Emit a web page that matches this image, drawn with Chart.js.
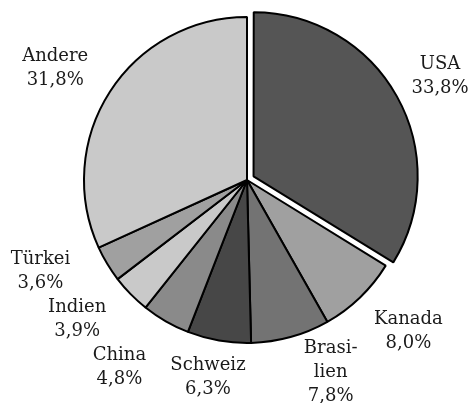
<!DOCTYPE html>
<html>
<head>
<meta charset="utf-8">
<script src="https://cdn.jsdelivr.net/npm/chart.js@4/dist/chart.umd.min.js"></script>
<style>
  html, body { margin: 0; padding: 0; background: #fff; }
  #wrap { width: 470px; height: 403px; }
</style>
</head>
<body>
<div id="wrap"><canvas id="pieChart"></canvas></div>
<script>
var labels = [['USA'], ['Kanada'], ['Brasi-', 'lien'], ['Schweiz'], ['China'], ['Indien'], ['Türkei'], ['Andere']];
var shares = [33.8, 8.0, 7.8, 6.3, 4.8, 3.9, 3.6, 31.8];
var colors = ['#555555', '#a0a0a0', '#737373', '#474747', '#8a8a8a', '#c9c9c9', '#a0a0a0', '#c9c9c9'];
// Chart.js divides the arc offset by 4 when drawing
var offsets = [30, 0, 0, 0, 0, 0, 0, 0];

// label placement: distance from centre and small angle shift (degrees)
var labelDist = [219, 221, 210, 201, 227, 220, 226, 222];
var labelShift = [1, -3, -8, 1.3, 4.3, 5, 7, -2.5];

function fmt(v) {
    return v.toFixed(1).replace('.', ',') + '%';
}

var outsideLabels = {
    id: 'outsideLabels',
    afterDatasetsDraw: function (chart) {
        var ctx = chart.ctx;
        var meta = chart.getDatasetMeta(0);
        var area = chart.chartArea;
        var cx = (area.left + area.right) / 2;
        var cy = (area.top + area.bottom) / 2;
        ctx.save();
        ctx.font = '18px "DejaVu Serif"';
        ctx.fillStyle = '#1a1a1a';
        ctx.textAlign = 'center';
        ctx.textBaseline = 'middle';
        meta.data.forEach(function (arc, i) {
            var mid = (arc.startAngle + arc.endAngle) / 2 + labelShift[i] * Math.PI / 180;
            var x = cx + Math.cos(mid) * labelDist[i];
            var y = cy + Math.sin(mid) * labelDist[i];
            var lines = labels[i].concat([fmt(shares[i])]);
            var lh = 24;
            var y0 = y - (lines.length - 1) * lh / 2;
            lines.forEach(function (t, k) {
                ctx.fillText(t, x, y0 + k * lh);
            });
        });
        ctx.restore();
    }
};

var pieCtx = document.getElementById('pieChart').getContext('2d');

var pieChart = new Chart(pieCtx, {
    type: 'pie',
    data: {
        labels: labels.map(function (l) { return l.join(''); }),
        datasets: [{
            data: shares,
            backgroundColor: colors,
            borderColor: '#000',
            borderWidth: 2,
            offset: offsets
        }]
    },
    options: {
        responsive: true,
        maintainAspectRatio: false,
        animation: false,
        radius: 163,
        layout: { padding: { left: 24, right: 0, top: 0, bottom: 43 } },
        plugins: {
            legend: { display: false },
            tooltip: { enabled: false }
        }
    },
    plugins: [outsideLabels]
});
</script>
</body>
</html>
